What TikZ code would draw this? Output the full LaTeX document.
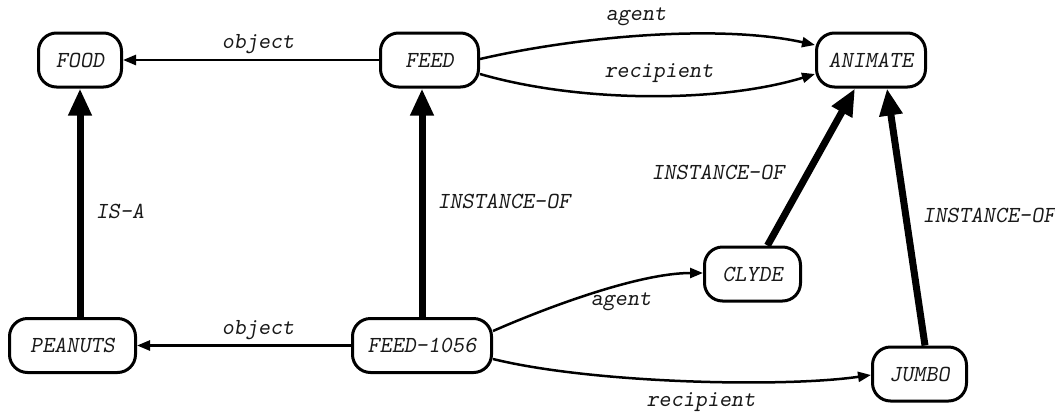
\documentclass[tikz,border=0pt]{standalone}
\usepackage{fontspec}
\usetikzlibrary{arrows.meta}
\begin{document}
\begin{tikzpicture}[x=1pt,y=-1pt,
  txt/.style={font=\ttfamily\slshape\fontsize{23}{27}\selectfont, text=black!90},
  concept/.style={txt, draw, line width=3pt, rounded corners=18pt,
    minimum height=54pt, inner sep=0pt},
  rel/.style={line width=2.5pt, -{Triangle[length=13pt,width=10pt]}},
  isa/.style={line width=7pt, -{Triangle[length=27pt,width=22pt]}},
  lbl/.style={txt, inner sep=0pt}]
\useasboundingbox (0,0) rectangle (1055,413);

% concept nodes
\node[concept, minimum width=83pt]  (FOOD)    at (80,60)      {FOOD};
\node[concept, minimum width=98pt]  (FEED)    at (429.5,60)   {FEED};
\node[concept, minimum width=109pt] (ANIMATE) at (871,60)     {ANIMATE};
\node[concept, minimum width=126pt] (PEANUTS) at (72.5,345.5) {PEANUTS};
\node[concept, minimum width=139pt] (F1056)   at (422,345.5)  {FEED-1056};
\node[concept, minimum width=96pt]  (CLYDE)   at (752.5,274)  {CLYDE};
\node[concept, minimum width=94pt]  (JUMBO)   at (919.5,374)  {JUMBO};

% generic FEED frame
\draw[rel] (FEED.west) -- (FOOD.east);
\draw[rel] ([yshift=1pt]FEED.east) .. controls (580,36) and (720,24) .. ([yshift=15pt]ANIMATE.west);
\draw[rel] ([yshift=-14pt]FEED.east) .. controls (580,103) and (720,103) .. ([yshift=-14pt]ANIMATE.west);

% the instance FEED-1056
\draw[rel] (F1056.west) -- (PEANUTS.east);
\draw[rel] ([yshift=14.5pt]F1056.east) .. controls (550,306) and (640,273) .. ([yshift=1pt]CLYDE.west);
\draw[rel] ([yshift=-13.5pt]F1056.east) .. controls (590,383) and (780,388) .. ([yshift=-1pt]JUMBO.west);

% hierarchy links
\draw[isa] (FOOD.south |- PEANUTS.north) -- (FOOD.south);
\draw[isa] (F1056.north) -- (F1056.north |- FEED.south);
\draw[isa] ([xshift=15pt]CLYDE.north) -- ([xshift=-16pt]ANIMATE.south);
\draw[isa] ([xshift=5.5pt]JUMBO.north) -- ([xshift=16pt]ANIMATE.south);

% link labels
\node[lbl] (l1) at (258,44)  {object};
\node[lbl] (l2) at (636,17)  {agent};
\node[lbl] (l3) at (659,73)  {recipient};
\node[lbl] (l4) at (258,330) {object};
\node[lbl] (l5) at (621,302) {agent};
\node[lbl] (l6) at (701,402) {recipient};
\node[lbl] (l7) at (120,211) {IS-A};
\node[lbl] (l8) at (504,201) {INSTANCE-OF};
\node[lbl] (l9) at (718,172) {INSTANCE-OF};
\node[lbl] (l10) at (989,215) {INSTANCE-OF};
\end{tikzpicture}
\end{document}
